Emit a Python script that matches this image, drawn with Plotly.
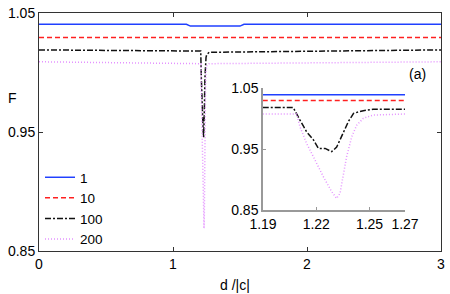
import plotly.graph_objects as go

# ---- data ----
labels = ["1", "10", "100", "200"]

x_blue = [0, 1.10, 1.13, 1.50, 1.53, 3]
y_blue = [1.0405, 1.0405, 1.039, 1.039, 1.0405, 1.0405]

x_red = [0, 3]
y_red = [1.0295, 1.0295]

x_black = [0, 1.19, 1.207, 1.2108, 1.2146, 1.2184, 1.2212, 1.225, 1.2287, 1.2315,
           1.2343, 1.2381, 1.241, 1.2465, 1.252, 1.27, 3]
y_black = [1.019, 1.018, 1.018, 0.9975, 0.978, 0.965, 0.951, 0.951, 0.9456, 0.953,
           0.970, 0.995, 1.0085, 1.0128, 1.015, 1.017, 1.019]

x_pink = [0, 1.19, 1.209, 1.2108, 1.2146, 1.2193, 1.224, 1.2287, 1.2315, 1.2334,
          1.2352, 1.2371, 1.24, 1.2428, 1.2465, 1.252, 1.27, 3]
y_pink = [1.009, 1.0074, 1.0074, 0.9866, 0.959, 0.932, 0.9046, 0.880, 0.869, 0.8774,
          0.910, 0.9374, 0.970, 0.989, 1.0003, 1.0056, 1.0074, 1.009]

main_xticks = [0, 1, 2, 3]
main_yticks = [0.85, 0.95, 1.05]
inset_xticks = [1.19, 1.22, 1.25, 1.27]
inset_yticks = [0.85, 0.95, 1.05]

colors = ["#2040ff", "#ff2020", "#111111", "#e493ff"]
dashes = ["solid", "5px,3px", "6px,2px,2px,2px", "1px,2px"]
widths = [1.5, 1.5, 1.5, 1.5]

series = [(x_blue, y_blue), (x_red, y_red), (x_black, y_black), (x_pink, y_pink)]

fig = go.Figure()
for (xs, ys), name, c, d, w in zip(series, labels, colors, dashes, widths):
    fig.add_trace(go.Scatter(x=xs, y=ys, mode="lines", name=name,
                             line=dict(color=c, dash=d, width=w)))
for (xs, ys), name, c, d, w in zip(series, labels, colors, dashes, widths):
    fig.add_trace(go.Scatter(x=xs, y=ys, mode="lines", name=name, showlegend=False,
                             xaxis="x2", yaxis="y2",
                             line=dict(color=c, dash=d, width=w)))

font = dict(family="Liberation Sans, Arial, sans-serif", size=14, color="black")
legend_font = dict(family="Liberation Sans, Arial, sans-serif", size=13.5,
                   color="black")

L, R, T, B = 39, 441, 13, 251
PW, PH = R - L, B - T


def px(xp):
    return (xp - L) / PW


def py(yp):
    return (B - yp) / PH


fig.update_layout(
    width=450, height=294,
    margin=dict(l=L, r=450 - R, t=T, b=294 - B, autoexpand=False),
    paper_bgcolor="white", plot_bgcolor="white",
    font=font,
    showlegend=True,
    legend=dict(x=px(40), y=py(162), xanchor="left", yanchor="top",
                bgcolor="rgba(0,0,0,0)", font=legend_font, tracegroupgap=0),
    xaxis=dict(range=[0, 3], tickvals=main_xticks, ticks="inside", ticklen=4,
               showline=True, linecolor="#333", linewidth=1, mirror="allticks",
               showgrid=False, zeroline=False, tickcolor="#333"),
    yaxis=dict(range=[0.85, 1.05], tickvals=main_yticks, ticks="inside", ticklen=4,
               tickformat=".2f",
               showline=True, linecolor="#333", linewidth=1, mirror="allticks",
               showgrid=False, zeroline=False, tickcolor="#333"),
    xaxis2=dict(domain=[px(263), px(405)], anchor="y2", range=[1.19, 1.27],
                tickvals=inset_xticks, ticks="inside", ticklen=3, tickcolor="#999",
                showline=True, linecolor="#999", linewidth=1.5,
                showgrid=False, zeroline=False),
    yaxis2=dict(domain=[py(210), py(88)], anchor="x2", range=[0.85, 1.05],
                tickvals=inset_yticks, tickformat=".2f", ticks="inside", ticklen=3,
                tickcolor="#999", showline=True, linecolor="#999", linewidth=1.5,
                showgrid=False, zeroline=False),
    annotations=[
        dict(text="F", x=px(12), y=py(98), xref="paper", yref="paper",
             showarrow=False, font=font, xanchor="center", yanchor="middle"),
        dict(text="d /|c|", x=px(235), y=py(285), xref="paper", yref="paper",
             showarrow=False, font=font, xanchor="center", yanchor="middle"),
        dict(text="(a)", x=px(417), y=py(74), xref="paper", yref="paper",
             showarrow=False, font=font, xanchor="center", yanchor="middle"),
    ],
)

fig.write_html("out.html",
               config={"displayModeBar": False},
               post_script="document.body.style.margin='0';"
                           "document.body.style.padding='0';")
